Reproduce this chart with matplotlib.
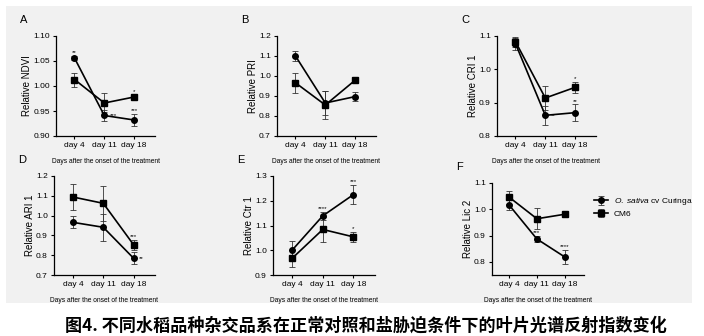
import numpy as np
import matplotlib.pyplot as plt

plt.rcParams['font.family'] = ['Liberation Sans', 'Noto Sans CJK SC', 'DejaVu Sans']
plt.rcParams['mathtext.fontset'] = 'custom'
plt.rcParams['mathtext.rm'] = 'Liberation Sans'
plt.rcParams['mathtext.it'] = 'Liberation Sans:italic'

# =============================
# Data
# =============================
days = ["day 4", "day 11", "day 18"]

ndvi_cur = [1.056, 0.941, 0.932]
ndvi_cur_err = [0.005, 0.011, 0.012]
ndvi_cm6 = [1.013, 0.966, 0.978]
ndvi_cm6_err = [0.014, 0.019, 0.005]

pri_cur = [1.100, 0.865, 0.897]
pri_cur_err = [0.025, 0.06, 0.022]
pri_cm6 = [0.966, 0.855, 0.979]
pri_cm6_err = [0.05, 0.07, 0.015]

cri_cur = [1.077, 0.862, 0.870]
cri_cur_err = [0.018, 0.028, 0.025]
cri_cm6 = [1.083, 0.914, 0.946]
cri_cm6_err = [0.015, 0.035, 0.017]

ari_cur = [0.966, 0.941, 0.784]
ari_cur_err = [0.03, 0.067, 0.03]
ari_cm6 = [1.094, 1.062, 0.852]
ari_cm6_err = [0.064, 0.088, 0.025]

ctr_cur = [1.000, 1.139, 1.225]
ctr_cur_err = [0.036, 0.016, 0.038]
ctr_cm6 = [0.967, 1.084, 1.054]
ctr_cm6_err = [0.035, 0.05, 0.02]

lic_cur = [1.016, 0.887, 0.819]
lic_cur_err = [0.02, 0.013, 0.027]
lic_cm6 = [1.046, 0.964, 0.981]
lic_cm6_err = [0.025, 0.04, 0.012]

# (series, day index, stars, where)
ndvi_stars = [("cur", 0, "**", "top"), ("cur", 1, "***", "right"),
              ("cur", 2, "***", "top"), ("cm6", 2, "*", "top")]
pri_stars = []
cri_stars = [("cur", 1, "**", "right"), ("cur", 2, "**", "top"), ("cm6", 2, "*", "top")]
ari_stars = [("cm6", 2, "***", "top"), ("cur", 2, "**", "right")]
ctr_stars = [("cur", 1, "****", "top"), ("cur", 2, "***", "top"), ("cm6", 2, "*", "top")]
lic_stars = [("cur", 1, "***", "top"), ("cur", 2, "****", "top")]

# =============================
# Figure
# =============================
W, H = 704, 336
fig = plt.figure(figsize=(W / 100, H / 100), dpi=100)
fig.patch.set_facecolor("white")

# light gray panel behind the six plots
bg = fig.add_axes([6 / W, 1 - 303 / H, 686 / W, 297 / H])
bg.set_facecolor("#f1f1f1")
bg.set_xticks([])
bg.set_yticks([])
for s in bg.spines.values():
    s.set_visible(False)
bg.set_zorder(-10)


def make_axes(x0, x1, y0, y1):
    return fig.add_axes([x0 / W, 1 - y1 / H, (x1 - x0) / W, (y1 - y0) / H])


panels = [
    ("A", (56, 155, 36, 136), ndvi_cur, ndvi_cur_err, ndvi_cm6, ndvi_cm6_err,
     "Relative NDVI", (0.90, 1.10), [0.90, 0.95, 1.00, 1.05, 1.10], "%.2f", ndvi_stars),
    ("B", (277, 376, 36, 136), pri_cur, pri_cur_err, pri_cm6, pri_cm6_err,
     "Relative PRI", (0.7, 1.2), [0.7, 0.8, 0.9, 1.0, 1.1, 1.2], "%.1f", pri_stars),
    ("C", (497, 596, 36, 136), cri_cur, cri_cur_err, cri_cm6, cri_cm6_err,
     "Relative CRI 1", (0.8, 1.1), [0.8, 0.9, 1.0, 1.1], "%.1f", cri_stars),
    ("D", (54, 155, 176, 275), ari_cur, ari_cur_err, ari_cm6, ari_cm6_err,
     "Relative ARI 1", (0.7, 1.2), [0.7, 0.8, 0.9, 1.0, 1.1, 1.2], "%.1f", ari_stars),
    ("E", (273, 375, 176, 275), ctr_cur, ctr_cur_err, ctr_cm6, ctr_cm6_err,
     "Relative Ctr 1", (0.9, 1.3), [0.9, 1.0, 1.1, 1.2, 1.3], "%.1f", ctr_stars),
    ("F", (492, 584, 183, 275), lic_cur, lic_cur_err, lic_cm6, lic_cm6_err,
     "Relative Lic 2", (0.75, 1.1), [0.8, 0.9, 1.0, 1.1], "%.1f", lic_stars),
]

x = np.arange(len(days))

for letter, box, cur, cur_err, cm6, cm6_err, ylabel, ylim, yticks, fmt, stars in panels:
    ax = make_axes(*box)
    ax.set_facecolor("none")

    h1 = ax.errorbar(x, cur, yerr=cur_err, color="black", marker="o", markersize=4,
                     linewidth=1.2, elinewidth=0.6, capsize=2, capthick=0.6,
                     ecolor="#333333", label=r"$\it{O.\ sativa}$ cv Curinga")
    h2 = ax.errorbar(x, cm6, yerr=cm6_err, color="black", marker="s", markersize=4,
                     linewidth=1.2, elinewidth=0.6, capsize=2, capthick=0.6,
                     ecolor="#333333", label="CM6")

    series = {"cur": (cur, cur_err), "cm6": (cm6, cm6_err)}
    for key, i, txt, where in stars:
        v, e = series[key][0][i], series[key][1][i]
        if where == "top":
            ax.annotate(txt, (x[i], v + e), xytext=(0, 0.5), textcoords="offset points",
                        ha="center", va="bottom", fontsize=4.5)
        else:
            ax.annotate(txt, (x[i], v), xytext=(4, 0), textcoords="offset points",
                        ha="left", va="center", fontsize=4.5)

    ax.set_xlim(-0.62, 2.7)
    ax.set_ylim(*ylim)
    ax.set_xticks(x)
    ax.set_xticklabels(days)
    ax.set_yticks(yticks)
    ax.set_yticklabels([fmt % t for t in yticks])
    for s in ["top", "right"]:
        ax.spines[s].set_visible(False)
    for s in ["left", "bottom"]:
        ax.spines[s].set_linewidth(0.9)
    ax.tick_params(labelsize=6, width=0.8, length=2.5, pad=2)
    ax.set_ylabel(ylabel, fontsize=7, labelpad=0.5)
    ax.set_xlabel("Days after the onset of the treatment", fontsize=4.8, labelpad=6)

    fig.text((box[0] - 36) / W, 1 - (box[2] - 16) / H, letter, fontsize=8,
             ha="left", va="center")

    if letter == "F":
        fig.legend(handles=[h1, h2], loc="upper left",
                   bbox_to_anchor=(591 / W, 1 - 193 / H), frameon=False,
                   fontsize=6, handlelength=1.6, handletextpad=0.7,
                   labelspacing=0.35, borderaxespad=0)

fig.text(366 / W, 1 - 326 / H,
         "图4. 不同水稻品种杂交品系在正常对照和盐胁迫条件下的叶片光谱反射指数变化",
         fontsize=12.3, fontweight="bold", ha="center", va="center",
         family=["Noto Sans CJK SC", "DejaVu Sans"])

fig.savefig("out.png", dpi=100)
